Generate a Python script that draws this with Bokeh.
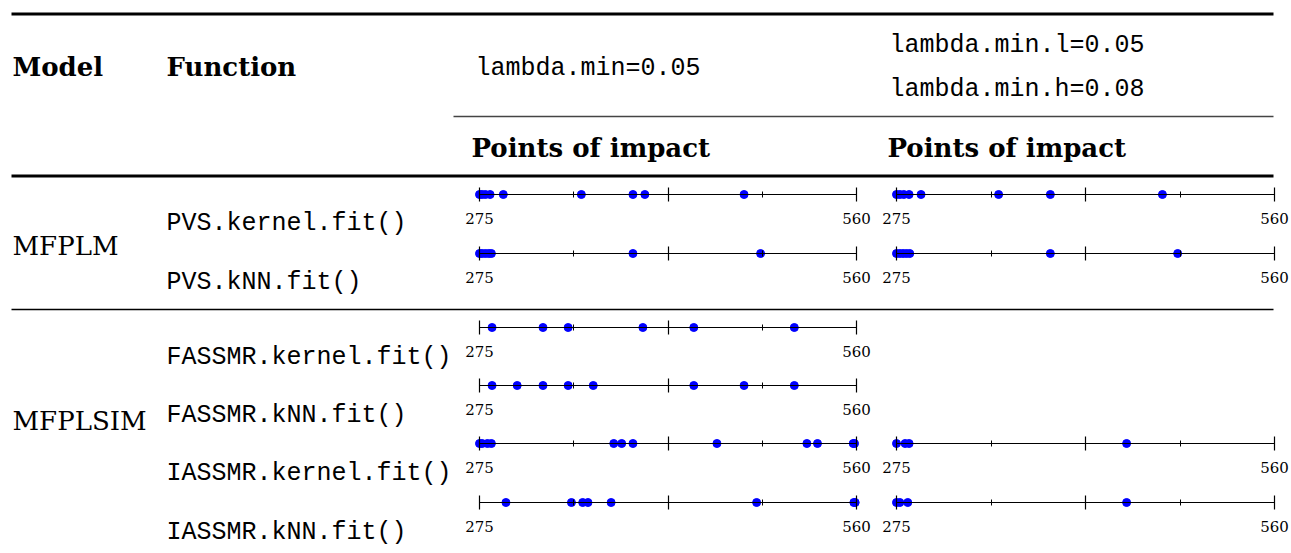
from bokeh.plotting import figure
from bokeh.models import Range1d, LinearAxis, FixedTicker
from bokeh.embed import file_html
from bokeh.resources import INLINE
from bokeh.core.properties import value

# ---------------- data ----------------
models = ["MFPLM", "MFPLSIM"]
functions = ["PVS.kernel.fit()", "PVS.kNN.fit()", "FASSMR.kernel.fit()",
             "FASSMR.kNN.fit()", "IASSMR.kernel.fit()", "IASSMR.kNN.fit()"]
header_model = "Model"
header_function = "Function"
header_left = ["lambda.min=0.05"]
header_right = ["lambda.min.l=0.05", "lambda.min.h=0.08"]
subheader = "Points of impact"

axis_min, axis_max = 275, 560
ticks_major = [275, 417.5, 560]
ticks_minor = [346.25, 488.75]
tick_labels = {275: "275", 560: "560", 417.5: ""}

# points of impact, lambda.min = 0.05
pvs_kernel_l = [275, 277, 279.5, 283, 293, 352, 391, 400, 475]
pvs_knn_l = [275, 277, 279.5, 282, 284, 391, 487.5]
fassmr_kernel_l = [284.5, 323, 342, 398.5, 437, 513]
fassmr_knn_l = [284.5, 303.5, 323, 342, 361, 437, 475, 513]
iassmr_kernel_l = [275, 277, 281, 284, 376.5, 382.5, 391, 454.5, 522.5, 530.5, 557.5, 558.5]
iassmr_knn_l = [295, 344.5, 353, 357, 374.5, 484.5, 558, 559]
# points of impact, lambda.min.l = 0.05, lambda.min.h = 0.08
pvs_kernel_r = [275, 277.5, 280.5, 284.5, 293.5, 352, 391, 475.5]
pvs_knn_r = [275, 277.5, 280, 282.5, 285, 391, 487]
fassmr_kernel_r = None
fassmr_knn_r = None
iassmr_kernel_r = [275, 281.5, 284.5, 448.5]
iassmr_knn_r = [275, 277.5, 283.5, 448.5]

left_rows = [pvs_kernel_l, pvs_knn_l, fassmr_kernel_l, fassmr_knn_l, iassmr_kernel_l, iassmr_knn_l]
right_rows = [pvs_kernel_r, pvs_knn_r, fassmr_kernel_r, fassmr_knn_r, iassmr_kernel_r, iassmr_knn_r]

# ---------------- layout (pixels) ----------------
W, H = 1291, 553
row_y = [194, 253, 327, 385, 443, 502]
func_y = [223, 282, 357, 415, 473, 532]
model_y = [245, 420]
SERIF = "DejaVu Serif"
MONO = "Liberation Mono"

p = figure(width=W, height=H, x_range=Range1d(0, W), y_range=Range1d(H, 0),
           output_backend="svg", toolbar_location=None, min_border=0,
           x_axis_location=None, y_axis_location=None)
p.grid.grid_line_color = None
p.outline_line_color = None
p.background_fill_color = "white"
p.border_fill_color = "white"


def strip_range(px0, px1):
    s = (px1 - px0) / (axis_max - axis_min)
    start = axis_min - px0 / s
    return Range1d(start, start + W / s)


p.extra_x_ranges = {"vL": strip_range(479, 856), "vR": strip_range(896, 1274)}

# table rules
p.segment(x0=[11, 453, 11, 11], x1=[1273, 1273, 1273, 1273],
          y0=[13.5, 116, 175.5, 309], y1=[13.5, 116, 175.5, 309],
          line_color=["black", "#444444", "black", "black"],
          line_width=[3, 1.3, 3, 1.3])


def txt(x, y, t, font, size, bold=False):
    p.text(x=x, y=y, text=t, text_font=value(font), text_font_size=size,
           text_font_style="bold" if bold else "normal",
           text_baseline="middle", text_align="left", text_color="black")


txt([12, 166], [66, 66], [header_model, header_function], SERIF, "26px", bold=True)
txt([475], [68], header_left, MONO, "25px")
txt([889, 889], [45, 89], header_right, MONO, "25px")
txt([471, 887], [147, 147], [subheader, subheader], SERIF, "26px", bold=True)
txt([12] * len(models), model_y, models, SERIF, "26px")
txt([166] * len(functions), func_y, functions, MONO, "25px")


def add_strip(vals, y, rname):
    ax = LinearAxis(x_range_name=rname, fixed_location=y, bounds=(axis_min, axis_max),
                    ticker=FixedTicker(ticks=ticks_major, minor_ticks=ticks_minor),
                    major_label_overrides=tick_labels,
                    major_tick_in=7, major_tick_out=7, minor_tick_in=3, minor_tick_out=3,
                    major_tick_line_color="black", minor_tick_line_color="black",
                    axis_line_color="black", axis_line_width=1.2,
                    major_tick_line_width=1.2, minor_tick_line_width=1.0,
                    major_label_standoff=11,
                    major_label_text_font=SERIF, major_label_text_font_size="15px",
                    major_label_text_color="black")
    p.add_layout(ax, "below")
    p.scatter(x=vals, y=[y] * len(vals), size=8, marker="circle",
              fill_color="#0000ff", line_color="#0000ff", x_range_name=rname)


for vals, y in zip(left_rows, row_y):
    if vals:
        add_strip(vals, y, "vL")
for vals, y in zip(right_rows, row_y):
    if vals:
        add_strip(vals, y, "vR")

open("out.html", "w").write(file_html(p, INLINE))
